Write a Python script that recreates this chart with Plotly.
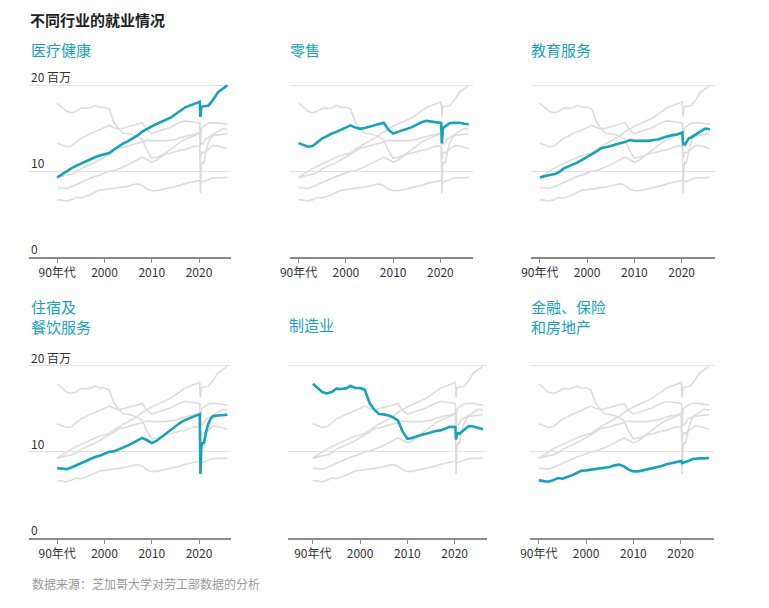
import plotly.graph_objects as go

W, H = 769, 608
OFF = 8  # page body margin: screen px = figure px + OFF

# ---- data (millions of jobs) ----
years = [1990, 1991, 1992, 1993, 1994, 1995, 1996, 1997, 1998, 1999,
         2000, 2001, 2002, 2003, 2004, 2005, 2006, 2007, 2008, 2009,
         2010, 2011, 2012, 2013, 2014, 2015, 2016, 2017, 2018, 2019,
         2020.15, 2020.3, 2020.5, 2020.75, 2021, 2021.5, 2022, 2022.5,
         2023, 2024, 2025, 2026]

healthcare = [9.26, 9.61, 10.0, 10.31, 10.59, 10.86, 11.13, 11.37, 11.6, 11.8,
              11.95, 12.1, 12.5, 12.89, 13.2, 13.48, 13.79, 14.14, 14.57, 14.92,
              15.2, 15.47, 15.74, 15.98, 16.2, 16.6, 17.03, 17.38, 17.6, 17.85,
              18.05, 16.3, 17.45, 17.5, 17.5, 17.55, 17.6, 17.9,
              18.3, 19.15, 19.6, 19.96]

retail = [13.24, 13.05, 12.82, 12.9, 13.3, 13.8, 14.05, 14.36, 14.55, 14.8,
          15.1, 15.3, 15.05, 14.9, 15.0, 15.17, 15.3, 15.5, 15.6, 14.8,
          14.36, 14.55, 14.75, 14.9, 15.1, 15.4, 15.67, 15.83, 15.75, 15.7,
          15.6, 13.2, 14.9, 15.1, 15.2, 15.4, 15.55, 15.6,
          15.6, 15.6, 15.5, 15.45]

education = [9.23, 9.42, 9.54, 9.61, 9.85, 10.27, 10.5, 10.73, 11.0, 11.31,
             11.62, 11.9, 12.28, 12.66, 12.74, 12.9, 13.09, 13.2, 13.36, 13.6,
             13.5, 13.5, 13.47, 13.5, 13.6, 13.67, 13.86, 14.05, 14.17, 14.25,
             14.48, 13.0, 13.3, 13.1, 13.4, 13.8, 13.9, 14.1,
             14.25, 14.6, 14.94, 14.86]

leisure = [8.09, 8.05, 7.97, 8.16, 8.4, 8.67, 8.95, 9.18, 9.38, 9.53,
           9.77, 10.0, 10.04, 10.23, 10.5, 10.74, 11.05, 11.33, 11.6, 11.33,
           11.02, 11.25, 11.68, 12.1, 12.58, 13.0, 13.36, 13.67, 13.9, 14.14,
           14.37, 7.42, 10.6, 11.1, 10.9, 12.3, 13.3, 13.87,
           14.14, 14.2, 14.26, 14.3]

manufacturing = [17.9, 17.4, 16.94, 16.78, 16.94, 17.33, 17.29, 17.36, 17.64, 17.4,
                 17.4, 17.2, 15.66, 14.88, 14.38, 14.34, 14.22, 13.99, 13.64, 12.36,
                 11.5, 11.6, 11.82, 11.98, 12.09, 12.29, 12.4, 12.48, 12.71, 12.9,
                 12.87, 11.4, 12.1, 12.2, 12.09, 12.3, 12.56, 12.8,
                 12.98, 12.94, 12.79, 12.6]

finance = [6.67, 6.59, 6.51, 6.67, 6.94, 6.86, 7.02, 7.25, 7.52, 7.79,
           7.83, 7.91, 8.02, 8.1, 8.18, 8.22, 8.41, 8.5, 8.3, 7.91,
           7.71, 7.71, 7.83, 7.95, 8.02, 8.18, 8.33, 8.53, 8.64, 8.8,
           8.91, 8.68, 8.72, 8.75, 8.76, 8.9, 8.99, 9.15,
           9.19, 9.22, 9.22, 9.26]

series = [healthcare, retail, education, leisure, manufacturing, finance]
panel_titles = ["医疗健康", "零售", "教育服务",
                "住宿及<br>餐饮服务", "制造业", "金融、保险<br>和房地产"]
x_tickvals = [1990, 2000, 2010, 2020]
x_ticktext = ["90年代", "2000", "2010", "2020"]
y_labelvals = [0, 10, 20]
y_labeltext = ["0", "10", "20 百万"]

TITLE = "不同行业的就业情况"
SOURCE = "数据来源：芝加哥大学对劳工部数据的分析"

# ---- styling / geometry (screen pixels) ----
TEAL = "#17a2b8"
GRAY_LINE = "#dcdcdc"
GRID = "#e3e3e3"
AXIS = "#8a8a8a"
FONT = "Noto Sans CJK SC"
PX_PER_YEAR = 4.79
PX_PER_UNIT = 8.6


def fx(px):
    return (px - OFF) / W


def fy(px):
    return (H - (px - OFF)) / H


# (left px, right px, px of year 1990, bottom px, show y labels)
panels = [
    (19.3, 224.3, 47.7, 257.0, True),
    (283.3, 469.3, 292.3, 257.0, False),
    (527.7, 714.0, 536.7, 257.0, False),
    (19.3, 224.3, 47.7, 537.7, True),
    (281.7, 483.3, 306.7, 537.7, False),
    (526.7, 713.3, 535.7, 537.7, False),
]
TOP_UNITS = 20.9

fig = go.Figure()
layout = dict(
    width=W, height=H, margin=dict(l=0, r=0, t=0, b=0),
    paper_bgcolor="white", plot_bgcolor="white",
    showlegend=False, font=dict(family=FONT, size=12, color="#333"),
    hovermode=False,
)
annotations = []

for i, (left, right, x1990, bottom, ylab) in enumerate(panels):
    n = i + 1
    xa = "x" if n == 1 else f"x{n}"
    ya = "y" if n == 1 else f"y{n}"
    for j, s in enumerate(series):
        if j == i:
            continue
        fig.add_trace(go.Scatter(x=years, y=s, mode="lines", xaxis=xa, yaxis=ya,
                                 line=dict(color=GRAY_LINE, width=1.6),
                                 hoverinfo="skip"))
    fig.add_trace(go.Scatter(x=years, y=series[i], mode="lines", xaxis=xa, yaxis=ya,
                             line=dict(color=TEAL, width=2.6), hoverinfo="skip"))

    x0 = 1990 - (x1990 - left) / PX_PER_YEAR
    x1 = 1990 + (right - x1990) / PX_PER_YEAR
    top = bottom - TOP_UNITS * PX_PER_UNIT
    layout["xaxis" if n == 1 else f"xaxis{n}"] = dict(
        domain=[fx(left), fx(right)], range=[x0, x1], anchor=ya,
        showgrid=False, zeroline=False, showline=True, linecolor=AXIS, linewidth=2,
        ticks="outside", ticklen=4, tickwidth=1, tickcolor=AXIS,
        tickvals=x_tickvals, ticktext=x_ticktext,
        tickfont=dict(family=FONT, size=12, color="#333"), fixedrange=True,
    )
    layout["yaxis" if n == 1 else f"yaxis{n}"] = dict(
        domain=[fy(bottom), fy(top)], range=[0, TOP_UNITS], anchor=xa,
        showgrid=True, gridcolor=GRID, gridwidth=1, zeroline=False,
        tickvals=[10, 20], showticklabels=False, ticks="", fixedrange=True,
    )
    if ylab:
        for v, t in zip(y_labelvals, y_labeltext):
            annotations.append(dict(
                xref=f"{xa} domain", yref=ya, x=0.0, y=v, text=t,
                xanchor="left", yanchor="bottom", showarrow=False, yshift=-2,
                font=dict(family=FONT, size=12, color="#333")))

# panel titles
title_x = [20, 283, 527, 20, 282, 527]
for i, txt in enumerate(panel_titles):
    two = "<br>" in txt
    if i < 3:
        yc = 49
    else:
        yc = 316 if two else 324
    annotations.append(dict(
        xref="paper", yref="paper", x=fx(title_x[i]), y=fy(yc),
        text=txt, xanchor="left", yanchor="middle", align="left",
        showarrow=False, borderpad=0,
        font=dict(family=FONT, size=15, color=TEAL)))

annotations.append(dict(
    xref="paper", yref="paper", x=fx(19), y=1.0, text=f"<b>{TITLE}</b>",
    xanchor="left", yanchor="top", showarrow=False, borderpad=0,
    font=dict(family=FONT, size=15, color="#222")))
annotations.append(dict(
    xref="paper", yref="paper", x=fx(20), y=fy(583), text=SOURCE,
    xanchor="left", yanchor="middle", showarrow=False,
    font=dict(family=FONT, size=12, color="#999")))

layout["annotations"] = annotations
fig.update_layout(**layout)
fig.write_html("out.html", config={"displayModeBar": False})
